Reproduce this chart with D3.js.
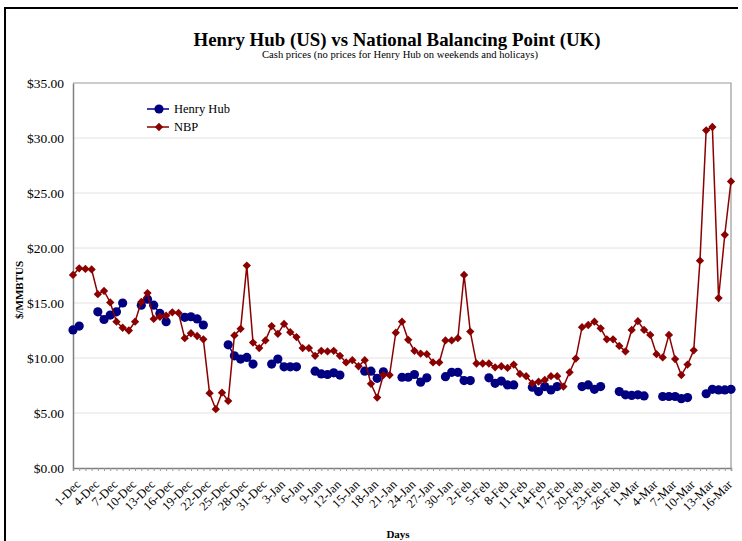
<!DOCTYPE html>
<html><head><meta charset="utf-8">
<script src="https://cdn.jsdelivr.net/npm/d3@7"></script>
<style>body{margin:0;background:#fff}svg{display:block}text{font-family:"Liberation Serif","Times New Roman",serif}</style>
</head><body><svg id="c" width="742" height="541"></svg>
<script>
const startDay = new Date(2005, 11, 1);
const endDay = new Date(2006, 2, 18);
const days = d3.timeDay.range(startDay, endDay);
const fmt = d3.timeFormat("%-d-%b");
const categories = days.map(fmt);
const tickLabels = ["1-Dec","4-Dec","7-Dec","10-Dec","13-Dec","16-Dec","19-Dec","22-Dec","25-Dec","28-Dec","31-Dec","3-Jan","6-Jan","9-Jan","12-Jan","15-Jan","18-Jan","21-Jan","24-Jan","27-Jan","30-Jan","2-Feb","5-Feb","8-Feb","11-Feb","14-Feb","17-Feb","20-Feb","23-Feb","26-Feb","1-Mar","4-Mar","7-Mar","10-Mar","13-Mar","16-Mar"];
const yTicks = [0,5,10,15,20,25,30,35];
const henryHub = [12.55,12.9,null,null,14.2,13.5,13.9,14.2,15.0,null,null,14.8,15.35,14.8,14.05,13.3,null,null,13.7,13.75,13.55,13.0,null,null,null,11.2,10.2,9.9,10.05,9.45,null,null,9.45,9.9,9.2,9.2,9.2,null,null,8.8,8.55,8.5,8.65,8.45,null,null,null,8.8,8.8,8.15,8.75,null,null,8.25,8.25,8.5,7.8,8.2,null,null,8.3,8.7,8.7,7.95,7.95,null,null,8.2,7.7,7.9,7.55,7.55,null,null,7.35,6.95,7.4,7.1,7.4,null,null,null,7.4,7.55,7.15,7.4,null,null,6.95,6.65,6.6,6.65,6.55,null,null,6.5,6.5,6.5,6.3,6.4,null,null,6.75,7.15,7.1,7.1,7.15];
const nbp = [17.55,18.15,18.1,18.05,15.8,16.1,15.05,13.3,12.75,12.5,13.3,15.1,15.9,13.55,13.75,13.85,14.15,14.1,11.8,12.25,12.0,11.7,6.8,5.35,6.85,6.1,12.05,12.65,18.4,11.4,10.9,11.6,12.9,12.2,13.1,12.35,11.9,10.9,10.9,10.2,10.65,10.6,10.65,10.2,9.6,9.8,9.25,9.8,7.65,6.4,8.45,8.45,12.3,13.3,11.65,10.65,10.4,10.35,9.6,9.6,11.6,11.6,11.8,17.55,12.4,9.5,9.5,9.5,9.15,9.25,9.1,9.4,8.55,8.35,7.7,7.85,8.0,8.35,8.35,7.4,8.7,9.95,12.8,13.0,13.3,12.7,11.7,11.7,11.1,10.6,12.55,13.35,12.55,12.1,10.35,10.05,12.1,9.9,8.45,9.4,10.7,18.85,30.7,31.0,15.45,21.2,26.05];
const seriesNames = ["Henry Hub","NBP"];
const colors = ["#000080","#8b0000"];

const svg = d3.select("#c");
const L = 73, R = 731, T = 83, B = 468;
const x = d3.scalePoint().domain(categories).range([L, R]);
const y = d3.scaleLinear().domain([0, 35]).range([B, T]);

// outer frame
svg.append("line").attr("x1",4).attr("x2",738).attr("y1",8).attr("y2",8).attr("stroke","#000").attr("stroke-width",2);
svg.append("line").attr("x1",5).attr("x2",5).attr("y1",7).attr("y2",541).attr("stroke","#000").attr("stroke-width",2);

// titles
svg.append("text").attr("x",397).attr("y",46).attr("text-anchor","middle").attr("font-size",19).attr("font-weight","bold")
  .attr("textLength",407).attr("lengthAdjust","spacingAndGlyphs").text("Henry Hub (US) vs National Balancing Point (UK)");
svg.append("text").attr("x",400).attr("y",58).attr("text-anchor","middle").attr("font-size",10.5)
  .attr("textLength",276).attr("lengthAdjust","spacingAndGlyphs").text("Cash prices (no prices for Henry Hub on weekends and holicays)");

// grid
svg.append("g").selectAll("line").data(yTicks.filter(v=>v>0&&v<35)).join("line")
  .attr("x1",L).attr("x2",R).attr("y1",d=>y(d)).attr("y2",d=>y(d)).attr("stroke","#e2e2e2").attr("stroke-width",1);
// plot border top/right
svg.append("path").attr("d",`M${L},${T}H${R}V${B}`).attr("fill","none").attr("stroke","#9a9a9a").attr("stroke-width",1.2);

// y axis
const ya = svg.append("g").attr("transform",`translate(${L},0)`).call(d3.axisLeft(y).tickValues(yTicks).tickSize(0).tickPadding(9).tickFormat(d3.format("$.2f")));
ya.select(".domain").attr("stroke","#808080").attr("stroke-width",1.5);
ya.selectAll("text").attr("font-size",13.5).attr("font-family","Liberation Serif").attr("fill","#000");

// x axis
const xa = svg.append("g").attr("transform",`translate(0,${B})`).call(d3.axisBottom(x).tickValues(categories).tickSize(3).tickFormat(""));
xa.select(".domain").attr("stroke","#808080").attr("stroke-width",1.5);
xa.selectAll(".tick line").attr("stroke","#999");
svg.append("g").selectAll("text").data(tickLabels).join("text")
  .attr("transform",d=>`translate(${x(d)+2},${B+11}) rotate(-45)`)
  .attr("text-anchor","end").attr("dy","0.7em").attr("font-size",12.5).text(d=>d);

// axis titles
svg.append("text").attr("transform",`translate(23,290) rotate(-90)`).attr("text-anchor","middle")
  .attr("font-size",11).attr("font-weight","bold").text("$/MMBTUS");
svg.append("text").attr("x",398).attr("y",538).attr("text-anchor","middle").attr("font-size",11).attr("font-weight","bold").text("Days");

// series
const data = [henryHub, nbp];
data.forEach((vals, s) => {
  const pts = categories.map((c,i)=>({c, v: vals[i]}));
  const line = d3.line().defined(d=>d.v!=null).x(d=>x(d.c)).y(d=>y(d.v));
  svg.append("path").datum(pts).attr("d",line).attr("fill","none").attr("stroke",colors[s]).attr("stroke-width",1.5);
  const valid = pts.filter(d=>d.v!=null);
  if (s===0) {
    svg.append("g").selectAll("circle").data(valid).join("circle")
      .attr("cx",d=>x(d.c)).attr("cy",d=>y(d.v)).attr("r",4.6).attr("fill",colors[s]);
  } else {
    svg.append("g").selectAll("path").data(valid).join("path")
      .attr("d",d3.symbol(d3.symbolDiamond2, 44)).attr("transform",d=>`translate(${x(d.c)},${y(d.v)})`).attr("fill",colors[s]);
  }
});

// legend
const lg = svg.append("g");
seriesNames.forEach((n,s)=>{
  const ly = 109 + s*18;
  lg.append("line").attr("x1",147).attr("x2",169).attr("y1",ly).attr("y2",ly).attr("stroke",colors[s]).attr("stroke-width",1.5);
  if (s===0) lg.append("circle").attr("cx",159).attr("cy",ly).attr("r",4.6).attr("fill",colors[s]);
  else lg.append("path").attr("d",d3.symbol(d3.symbolDiamond2,44)).attr("transform",`translate(159,${ly})`).attr("fill",colors[s]);
  lg.append("text").attr("x",174).attr("y",ly+4).attr("font-size",12.5).text(n);
});
</script></body></html>
